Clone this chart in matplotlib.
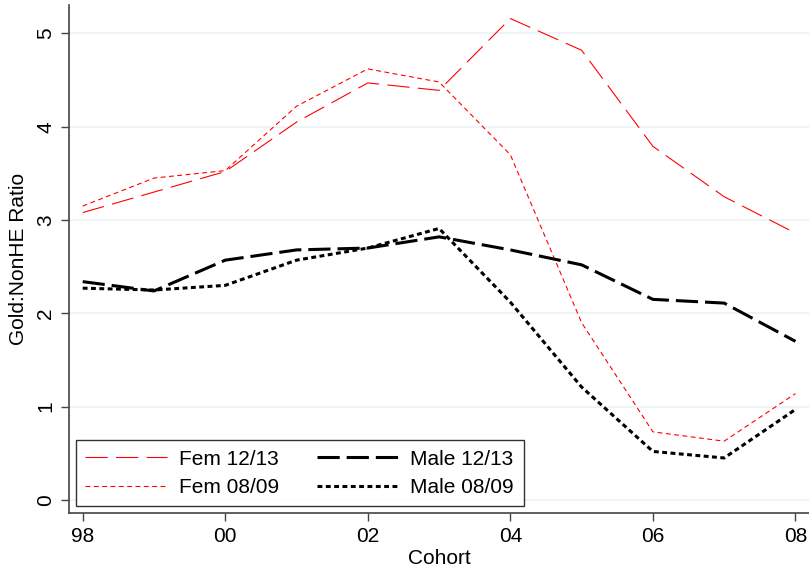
import numpy as np
import matplotlib
matplotlib.use("Agg")
import matplotlib.pyplot as plt

plt.rcParams['font.family'] = ['Liberation Sans', 'DejaVu Sans']
plt.rcParams['lines.scale_dashes'] = False

# cohort years and ratios per series
cohort = [1998, 1999, 2000, 2001, 2002, 2003, 2004, 2005, 2006, 2007, 2008]
fem_1213 = [3.08, 3.30, 3.52, 4.05, 4.47, 4.39, 5.16, 4.82, 3.79, 3.25, 2.86]
fem_0809 = [3.15, 3.45, 3.53, 4.22, 4.62, 4.48, 3.70, 1.90, 0.73, 0.63, 1.14]
male_1213 = [2.34, 2.24, 2.57, 2.68, 2.70, 2.82, 2.68, 2.52, 2.15, 2.11, 1.70]
male_0809 = [2.27, 2.25, 2.30, 2.57, 2.70, 2.91, 2.12, 1.21, 0.52, 0.45, 0.97]

xticks = [1998, 2000, 2002, 2004, 2006, 2008]
xticklabels = ["98", "00", "02", "04", "06", "08"]
yticks = [0, 1, 2, 3, 4, 5]

fig = plt.figure(figsize=(8.09, 5.71), dpi=100)
W, H = 809, 571
ax = fig.add_axes([69 / W, (H - 513.3) / H, 740 / W, 508.3 / H])

ax.plot(cohort, fem_1213, color='red', lw=0.8, dashes=(16, 6), label='Fem 12/13')
ax.plot(cohort, fem_0809, color='red', lw=0.8, dashes=(3.5, 2.5), label='Fem 08/09')
ax.plot(cohort, male_1213, color='black', lw=2.2, dashes=(16, 5), label='Male 12/13')
ax.plot(cohort, male_0809, color='black', lw=2.2, dashes=(3.5, 2.5), label='Male 08/09')

ax.set_xlim(1997.808, 2008.19)
ax.set_ylim(-0.143, 5.305)
ax.set_xticks(xticks)
ax.set_xticklabels(xticklabels)
ax.set_yticks(yticks)
ax.set_yticklabels([str(v) for v in yticks], rotation=90, va='center')

# light horizontal grid
ax.grid(axis='y', color='#eaf2f3', lw=1.2)
ax.set_axisbelow(True)

for side in ['top', 'right']:
    ax.spines[side].set_visible(False)
for side in ['left', 'bottom']:
    ax.spines[side].set_color('#444444')
    ax.spines[side].set_linewidth(1.2)
ax.tick_params(direction='out', length=6, width=1.0, color='#444444',
               labelsize=15, pad=4)

ax.set_xlabel('Cohort', fontsize=15, labelpad=2)
ax.set_ylabel('Gold:NonHE Ratio', fontsize=15, labelpad=6)

leg = ax.legend(ncol=2, loc='lower left', bbox_to_anchor=(7 / 740, 7 / 508.3),
                fontsize=15, frameon=True, fancybox=False, edgecolor='black',
                handlelength=3.9, handletextpad=0.6, columnspacing=1.8,
                labelspacing=0.45, borderpad=0.45, borderaxespad=0)
leg.get_frame().set_linewidth(1.0)

fig.savefig('out.png', dpi=100)
